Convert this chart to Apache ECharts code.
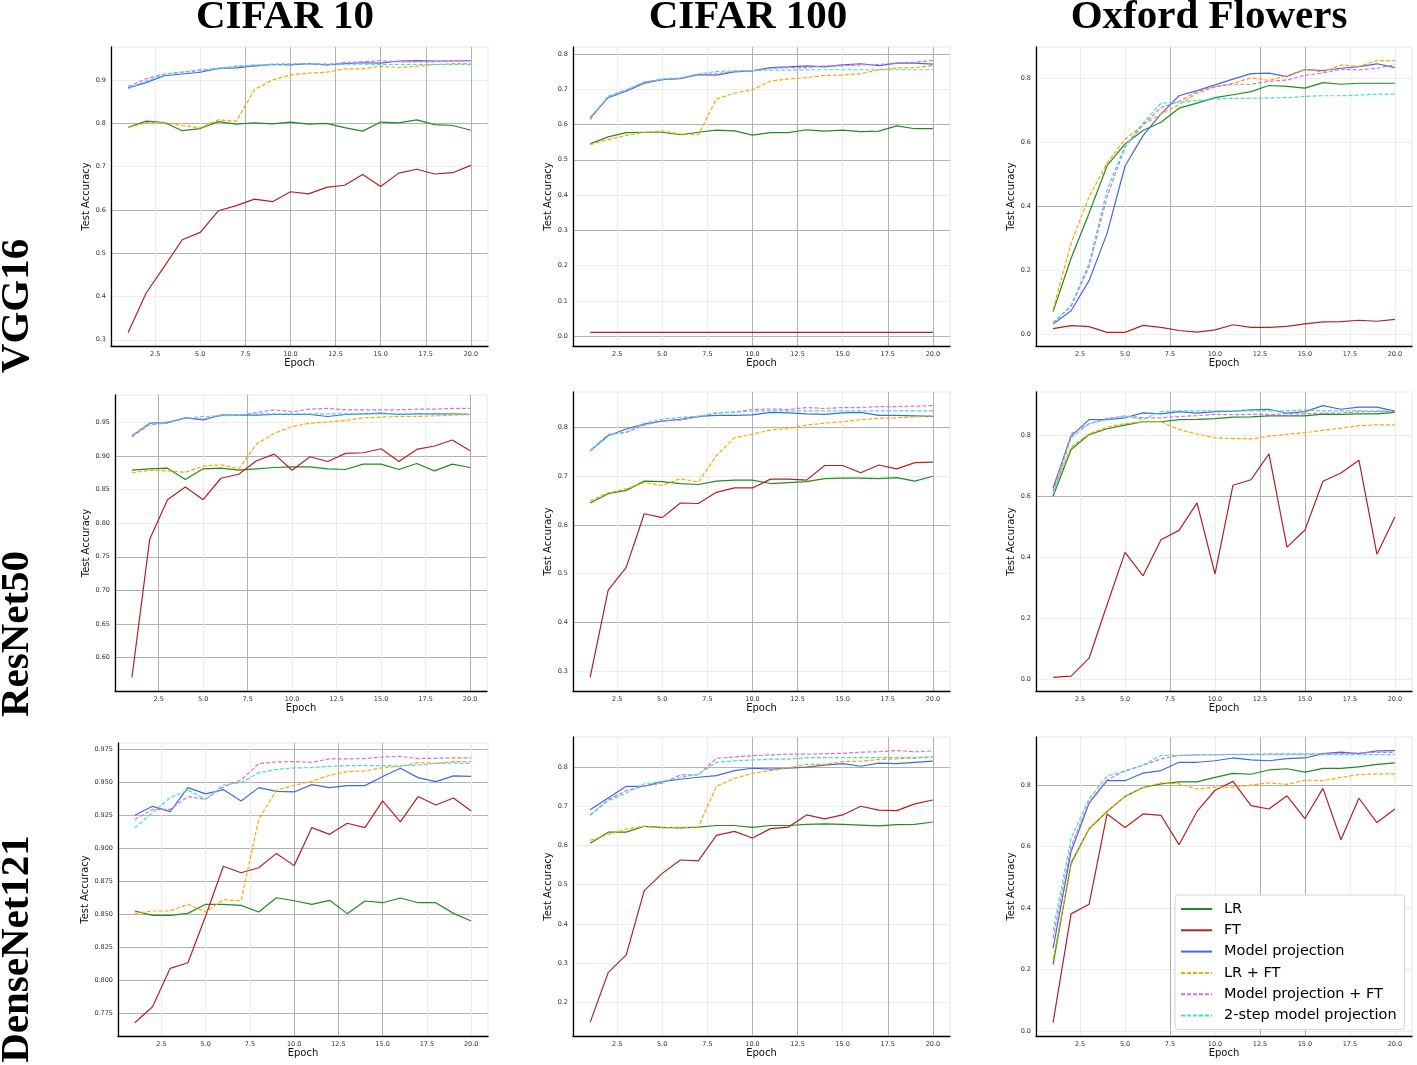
<!DOCTYPE html>
<html>
<head>
<meta charset="utf-8">
<script src="https://cdn.jsdelivr.net/npm/echarts@6/dist/echarts.min.js"></script>
<style>
  html, body { margin: 0; padding: 0; background: #fff; }
  #chart { width: 1417px; height: 1065px; }
</style>
</head>
<body>
<div id="chart"></div>
<script>
// epochs and legend
var epochs = [1, 2, 3, 4, 5, 6, 7, 8, 9, 10, 11, 12, 13, 14, 15, 16, 17, 18, 19, 20];
var seriesNames = ['LR', 'FT', 'Model projection', 'LR + FT', 'Model projection + FT', '2-step model projection'];
var xTicks = [2.5, 5, 7.5, 10, 12.5, 15, 17.5, 20];

// CIFAR 10 / VGG16
var c10VggLR   = [0.791,0.805,0.802,0.783,0.788,0.804,0.798,0.801,0.799,0.803,0.798,0.800,0.790,0.782,0.803,0.801,0.808,0.797,0.795,0.784];
var c10VggFT   = [0.317,0.408,0.469,0.531,0.548,0.598,0.610,0.625,0.619,0.642,0.637,0.652,0.657,0.682,0.654,0.685,0.694,0.683,0.686,0.703];
var c10VggMP   = [0.882,0.894,0.910,0.914,0.918,0.927,0.928,0.933,0.936,0.935,0.938,0.935,0.938,0.940,0.939,0.944,0.945,0.944,0.944,0.945];
var c10VggLRFT = [0.790,0.802,0.802,0.795,0.790,0.808,0.805,0.878,0.900,0.912,0.916,0.918,0.926,0.926,0.932,0.929,0.932,0.936,0.938,0.938];
var c10VggMPFT = [0.885,0.903,0.914,0.918,0.922,0.927,0.932,0.932,0.937,0.937,0.938,0.935,0.941,0.942,0.945,0.942,0.942,0.942,0.945,0.945];
var c10VggTwo  = [0.880,0.898,0.913,0.919,0.924,0.926,0.932,0.935,0.936,0.937,0.938,0.937,0.937,0.937,0.936,0.936,0.936,0.936,0.936,0.936];

// CIFAR 100 / VGG16
var c100VggLR   = [0.545,0.565,0.577,0.578,0.578,0.571,0.578,0.584,0.582,0.570,0.577,0.577,0.585,0.581,0.584,0.580,0.581,0.596,0.588,0.588];
var c100VggFT   = [0.011,0.011,0.011,0.011,0.011,0.011,0.011,0.011,0.011,0.011,0.011,0.011,0.011,0.011,0.011,0.011,0.011,0.011,0.011,0.011];
var c100VggMP   = [0.619,0.676,0.694,0.717,0.727,0.730,0.741,0.740,0.749,0.752,0.761,0.763,0.766,0.763,0.769,0.772,0.767,0.774,0.774,0.771];
var c100VggLRFT = [0.543,0.557,0.569,0.578,0.582,0.573,0.571,0.672,0.689,0.698,0.723,0.729,0.733,0.739,0.740,0.744,0.755,0.760,0.761,0.767];
var c100VggMPFT = [0.614,0.680,0.698,0.720,0.727,0.731,0.741,0.744,0.750,0.752,0.759,0.761,0.761,0.766,0.766,0.769,0.770,0.774,0.777,0.781];
var c100VggTwo  = [0.621,0.678,0.697,0.720,0.729,0.732,0.743,0.750,0.752,0.753,0.754,0.754,0.755,0.755,0.755,0.755,0.755,0.755,0.755,0.755];

// Oxford Flowers / VGG16
var flVggLR   = [0.070,0.237,0.378,0.527,0.595,0.637,0.663,0.707,0.723,0.740,0.749,0.759,0.778,0.775,0.770,0.787,0.782,0.785,0.785,0.785];
var flVggFT   = [0.017,0.026,0.023,0.005,0.005,0.027,0.021,0.011,0.006,0.013,0.029,0.021,0.021,0.024,0.032,0.038,0.039,0.043,0.040,0.046];
var flVggMP   = [0.031,0.073,0.167,0.315,0.526,0.621,0.689,0.746,0.762,0.780,0.798,0.815,0.817,0.806,0.828,0.825,0.832,0.837,0.846,0.834];
var flVggLRFT = [0.077,0.284,0.430,0.535,0.610,0.655,0.689,0.718,0.754,0.773,0.785,0.802,0.794,0.809,0.829,0.820,0.842,0.838,0.856,0.856];
var flVggMPFT = [0.036,0.086,0.211,0.430,0.585,0.655,0.709,0.728,0.759,0.775,0.782,0.782,0.791,0.795,0.810,0.817,0.829,0.827,0.832,0.843];
var flVggTwo  = [0.033,0.091,0.221,0.451,0.589,0.660,0.723,0.725,0.731,0.736,0.738,0.738,0.739,0.740,0.744,0.746,0.746,0.748,0.751,0.751];

// CIFAR 10 / ResNet50
var c10ResLR   = [0.879,0.881,0.882,0.865,0.881,0.882,0.879,0.881,0.883,0.884,0.884,0.881,0.880,0.888,0.888,0.880,0.889,0.878,0.888,0.883];
var c10ResFT   = [0.570,0.776,0.835,0.854,0.835,0.867,0.873,0.893,0.903,0.879,0.899,0.892,0.904,0.905,0.911,0.892,0.910,0.915,0.924,0.908];
var c10ResMP   = [0.930,0.949,0.950,0.957,0.954,0.961,0.961,0.961,0.962,0.962,0.962,0.959,0.962,0.963,0.964,0.962,0.963,0.963,0.963,0.962];
var c10ResLRFT = [0.875,0.879,0.878,0.876,0.885,0.887,0.881,0.918,0.934,0.944,0.949,0.951,0.953,0.957,0.958,0.959,0.959,0.960,0.961,0.962];
var c10ResMPFT = [0.929,0.947,0.949,0.957,0.955,0.961,0.961,0.965,0.969,0.966,0.970,0.971,0.969,0.969,0.969,0.969,0.970,0.970,0.971,0.971];
var c10ResTwo  = [0.931,0.948,0.951,0.956,0.959,0.960,0.961,0.963,0.963,0.963,0.963,0.963,0.963,0.963,0.963,0.963,0.963,0.963,0.963,0.963];

// CIFAR 100 / ResNet50
var c100ResLR   = [0.645,0.664,0.671,0.690,0.689,0.685,0.683,0.690,0.692,0.692,0.685,0.687,0.689,0.695,0.696,0.696,0.695,0.697,0.690,0.700];
var c100ResFT   = [0.287,0.466,0.513,0.623,0.615,0.645,0.644,0.667,0.676,0.676,0.694,0.694,0.692,0.722,0.722,0.707,0.723,0.715,0.728,0.729];
var c100ResMP   = [0.752,0.783,0.797,0.807,0.813,0.817,0.823,0.825,0.825,0.826,0.831,0.830,0.828,0.827,0.830,0.831,0.825,0.825,0.824,0.823];
var c100ResLRFT = [0.649,0.666,0.674,0.687,0.681,0.695,0.688,0.742,0.779,0.786,0.795,0.798,0.805,0.809,0.812,0.816,0.819,0.820,0.822,0.824];
var c100ResMPFT = [0.752,0.786,0.790,0.805,0.814,0.815,0.822,0.830,0.832,0.837,0.838,0.837,0.841,0.839,0.841,0.841,0.843,0.843,0.844,0.845];
var c100ResTwo  = [0.753,0.785,0.790,0.809,0.817,0.821,0.823,0.830,0.831,0.834,0.834,0.834,0.834,0.834,0.834,0.834,0.834,0.834,0.834,0.834];

// Oxford Flowers / ResNet50
var flResLR   = [0.599,0.752,0.801,0.820,0.832,0.843,0.843,0.850,0.851,0.853,0.858,0.859,0.862,0.862,0.862,0.868,0.867,0.869,0.869,0.874];
var flResFT   = [0.005,0.009,0.068,0.243,0.415,0.338,0.456,0.487,0.577,0.344,0.635,0.653,0.738,0.432,0.488,0.648,0.675,0.717,0.409,0.531];
var flResMP   = [0.626,0.796,0.850,0.850,0.856,0.872,0.869,0.876,0.871,0.876,0.878,0.882,0.884,0.871,0.876,0.896,0.884,0.891,0.891,0.878];
var flResLRFT = [0.615,0.760,0.803,0.825,0.837,0.843,0.843,0.818,0.803,0.790,0.788,0.787,0.795,0.802,0.807,0.815,0.822,0.830,0.833,0.833];
var flResMPFT = [0.615,0.803,0.836,0.854,0.862,0.856,0.856,0.860,0.863,0.867,0.866,0.867,0.867,0.869,0.869,0.871,0.872,0.876,0.876,0.876];
var flResTwo  = [0.604,0.790,0.837,0.851,0.861,0.851,0.876,0.879,0.879,0.879,0.879,0.879,0.879,0.879,0.882,0.879,0.879,0.879,0.879,0.879];

// CIFAR 10 / DenseNet121
var c10DenLR   = [0.8524,0.8491,0.8491,0.8506,0.8575,0.8575,0.8567,0.8516,0.8625,0.8602,0.8575,0.8605,0.8504,0.8600,0.8587,0.8623,0.8587,0.8587,0.8506,0.8448];
var c10DenFT   = [0.7675,0.7796,0.8088,0.8131,0.8486,0.8864,0.8815,0.8853,0.8962,0.8869,0.9158,0.9107,0.9191,0.9158,0.9361,0.9201,0.9394,0.9330,0.9383,0.9284];
var c10DenMP   = [0.9252,0.9320,0.9279,0.9462,0.9414,0.9447,0.9361,0.9462,0.9434,0.9429,0.9485,0.9462,0.9477,0.9477,0.9546,0.9609,0.9538,0.9508,0.9551,0.9548];
var c10DenLRFT = [0.8506,0.8524,0.8524,0.8575,0.8516,0.8610,0.8602,0.9221,0.9442,0.9480,0.9510,0.9556,0.9584,0.9589,0.9614,0.9624,0.9652,0.9647,0.9660,0.9660];
var c10DenMPFT = [0.9219,0.9297,0.9297,0.9394,0.9373,0.9467,0.9520,0.9645,0.9657,0.9660,0.9655,0.9680,0.9680,0.9683,0.9695,0.9700,0.9683,0.9685,0.9688,0.9688];
var c10DenTwo  = [0.9155,0.9272,0.9386,0.9442,0.9373,0.9482,0.9500,0.9576,0.9601,0.9612,0.9614,0.9624,0.9629,0.9629,0.9629,0.9627,0.9634,0.9645,0.9650,0.9645];

// CIFAR 100 / DenseNet121
var c100DenLR   = [0.606,0.634,0.634,0.649,0.646,0.645,0.647,0.651,0.651,0.646,0.651,0.651,0.654,0.655,0.654,0.652,0.650,0.653,0.654,0.660];
var c100DenFT   = [0.149,0.276,0.321,0.485,0.529,0.563,0.561,0.626,0.636,0.619,0.643,0.647,0.678,0.668,0.678,0.700,0.690,0.689,0.706,0.716];
var c100DenMP   = [0.691,0.721,0.751,0.751,0.763,0.769,0.774,0.778,0.791,0.797,0.795,0.797,0.800,0.805,0.809,0.802,0.810,0.809,0.812,0.815];
var c100DenLRFT = [0.613,0.628,0.642,0.649,0.645,0.646,0.647,0.751,0.771,0.784,0.791,0.798,0.807,0.807,0.814,0.815,0.819,0.821,0.823,0.825];
var c100DenMPFT = [0.677,0.717,0.740,0.751,0.759,0.780,0.780,0.822,0.826,0.829,0.831,0.833,0.833,0.834,0.835,0.838,0.839,0.842,0.839,0.841];
var c100DenTwo  = [0.678,0.714,0.734,0.757,0.763,0.774,0.782,0.812,0.816,0.818,0.820,0.820,0.824,0.824,0.824,0.824,0.824,0.824,0.824,0.826];

// Oxford Flowers / DenseNet121
var flDenLR   = [0.217,0.546,0.658,0.714,0.763,0.792,0.804,0.810,0.810,0.825,0.838,0.835,0.849,0.853,0.842,0.854,0.854,0.859,0.867,0.872];
var flDenFT   = [0.028,0.381,0.412,0.706,0.662,0.706,0.701,0.606,0.714,0.783,0.812,0.733,0.722,0.765,0.691,0.789,0.622,0.757,0.678,0.722];
var flDenMP   = [0.269,0.584,0.741,0.814,0.814,0.839,0.847,0.874,0.874,0.879,0.888,0.882,0.879,0.886,0.888,0.902,0.907,0.902,0.911,0.912];
var flDenLRFT = [0.233,0.541,0.658,0.714,0.763,0.792,0.807,0.804,0.787,0.793,0.793,0.800,0.807,0.802,0.816,0.814,0.825,0.834,0.836,0.836];
var flDenMPFT = [0.302,0.600,0.745,0.817,0.846,0.864,0.885,0.896,0.898,0.898,0.900,0.900,0.901,0.901,0.901,0.901,0.902,0.904,0.906,0.906];
var flDenTwo  = [0.327,0.627,0.755,0.829,0.846,0.865,0.896,0.896,0.898,0.899,0.899,0.899,0.899,0.899,0.900,0.899,0.899,0.899,0.899,0.899];

// y tick labels per panel
var ticksC10Vgg = [0.3, 0.4, 0.5, 0.6, 0.7, 0.8, 0.9];
var ticksC100Vgg = [0.0, 0.1, 0.2, 0.3, 0.4, 0.5, 0.6, 0.7, 0.8];
var ticksFlowers = [0.0, 0.2, 0.4, 0.6, 0.8];
var ticksC10Res = [0.60, 0.65, 0.70, 0.75, 0.80, 0.85, 0.90, 0.95];
var ticksC100Res = [0.3, 0.4, 0.5, 0.6, 0.7, 0.8];
var ticksC10Den = [0.775, 0.800, 0.825, 0.850, 0.875, 0.900, 0.925, 0.950, 0.975];
var ticksC100Den = [0.2, 0.3, 0.4, 0.5, 0.6, 0.7, 0.8];

var colors = ['#228B22', '#B22222', '#4169E1', '#FFA500', '#DA70D6', '#40E0D0'];
var dashed = [false, false, false, true, true, true];
var DARK = '#b2b2b2', LIGHT = '#ececec';

var panels = [
    { lines: [c10VggLR, c10VggFT, c10VggMP, c10VggLRFT, c10VggMPFT, c10VggTwo],
      box: [111, 47, 377, 299], yTicks: ticksC10Vgg, dec: 1, gap: 17,
      darkX: [7.5, 10, 12.5, 15, 17.5, 20], darkY: [0.5, 0.6, 0.8] },
    { lines: [c100VggLR, c100VggFT, c100VggMP, c100VggLRFT, c100VggMPFT, c100VggTwo],
      box: [573, 47, 377, 299], yTicks: ticksC100Vgg, dec: 1, gap: 18,
      darkX: [10, 12.5, 17.5, 20], darkY: [0.0, 0.3, 0.5, 0.6, 0.8] },
    { lines: [flVggLR, flVggFT, flVggMP, flVggLRFT, flVggMPFT, flVggTwo],
      box: [1036, 47, 376, 299], yTicks: ticksFlowers, dec: 1, gap: 18,
      darkX: [7.5, 12.5, 15], darkY: [0.4] },
    { lines: [c10ResLR, c10ResFT, c10ResMP, c10ResLRFT, c10ResMPFT, c10ResTwo],
      box: [115, 395, 372, 296], yTicks: ticksC10Res, dec: 2, gap: 23,
      darkX: [2.5, 7.5, 20], darkY: [0.6, 0.65, 0.7, 0.75, 0.9] },
    { lines: [c100ResLR, c100ResFT, c100ResMP, c100ResLRFT, c100ResMPFT, c100ResTwo],
      box: [573, 392, 377, 299], yTicks: ticksC100Res, dec: 1, gap: 18,
      darkX: [10, 12.5, 17.5, 20], darkY: [0.4, 0.6, 0.8] },
    { lines: [flResLR, flResFT, flResMP, flResLRFT, flResMPFT, flResTwo],
      box: [1036, 392, 376, 299], yTicks: ticksFlowers, dec: 1, gap: 18,
      darkX: [7.5, 12.5, 15], darkY: [0.6] },
    { lines: [c10DenLR, c10DenFT, c10DenMP, c10DenLRFT, c10DenMPFT, c10DenTwo],
      box: [118, 743, 370, 293], yTicks: ticksC10Den, dec: 3, gap: 25,
      darkX: [10, 12.5, 15], darkY: ticksC10Den },
    { lines: [c100DenLR, c100DenFT, c100DenMP, c100DenLRFT, c100DenMPFT, c100DenTwo],
      box: [573, 737, 377, 299], yTicks: ticksC100Den, dec: 1, gap: 18,
      darkX: [10, 12.5, 17.5, 20], darkY: [0.8] },
    { lines: [flDenLR, flDenFT, flDenMP, flDenLRFT, flDenMPFT, flDenTwo],
      box: [1036, 737, 376, 299], yTicks: ticksFlowers, dec: 1, gap: 18,
      darkX: [7.5, 12.5, 15], darkY: [0.8] }
];

function isIn(v, list) {
    return list.some(function (d) { return Math.abs(d - v) < 1e-6; });
}

var grids = [], xAxes = [], yAxes = [], series = [];
var tickFont = { fontSize: 6.5, color: '#333', fontFamily: 'DejaVu Sans' };
var nameFont = { fontSize: 10, color: '#111', fontFamily: 'DejaVu Sans' };

panels.forEach(function (p, i) {
    // matplotlib-like 5% margins around the data
    var all = [].concat.apply([], p.lines);
    var lo = Math.min.apply(null, all), hi = Math.max.apply(null, all);
    var pad = (hi - lo) * 0.05;

    grids.push({
        left: p.box[0], top: p.box[1], width: p.box[2], height: p.box[3],
        show: true, borderColor: '#e6e6e6', borderWidth: 1
    });

    xAxes.push({
        type: 'value', gridIndex: i, min: 0.05, max: 20.95,
        name: 'Epoch', nameLocation: 'middle', nameGap: 12, nameTextStyle: nameFont,
        axisLine: { show: true, onZero: false, lineStyle: { color: '#000', width: 1.3 } },
        axisTick: { show: false, customValues: xTicks },
        axisLabel: Object.assign({ customValues: xTicks, margin: 5,
            formatter: function (v) { return v.toFixed(1); } }, tickFont),
        splitLine: { show: true, lineStyle: { width: 1,
            color: xTicks.map(function (v) { return isIn(v, p.darkX) ? DARK : LIGHT; }) } }
    });

    yAxes.push({
        type: 'value', gridIndex: i, min: lo - pad, max: hi + pad,
        name: 'Test Accuracy', nameLocation: 'middle', nameGap: p.gap, nameTextStyle: nameFont,
        axisLine: { show: true, onZero: false, lineStyle: { color: '#000', width: 1.3 } },
        axisTick: { show: false, customValues: p.yTicks },
        axisLabel: Object.assign({ customValues: p.yTicks, margin: 5,
            formatter: function (v) { return v.toFixed(p.dec); } }, tickFont),
        splitLine: { show: true, lineStyle: { width: 1,
            color: p.yTicks.map(function (v) { return isIn(v, p.darkY) ? DARK : LIGHT; }) } }
    });

    p.lines.forEach(function (arr, k) {
        series.push({
            name: seriesNames[k], type: 'line', xAxisIndex: i, yAxisIndex: i,
            symbol: 'none', showSymbol: false, silent: true,
            data: epochs.map(function (e, j) { return [e, arr[j]]; }),
            itemStyle: { color: colors[k] },
            lineStyle: { color: colors[k], width: 1.2, type: dashed[k] ? [4, 2] : 'solid' }
        });
    });
});

var headFont = 'bold 41px "Liberation Serif", "Times New Roman", serif';
function headText(text, x, y, rot) {
    return {
        type: 'text', x: x, y: y, rotation: rot || 0, z: 100,
        style: { text: text, font: headFont, fill: '#000', textAlign: 'center', textVerticalAlign: 'middle' }
    };
}

var chart = echarts.init(document.getElementById('chart'), null, { renderer: 'canvas' });
chart.setOption({
    animation: false,
    backgroundColor: '#fff',
    grid: grids,
    xAxis: xAxes,
    yAxis: yAxes,
    series: series,
    legend: {
        data: seriesNames, orient: 'vertical', left: 1175, top: 895,
        padding: [6, 8, 6, 5], itemWidth: 31, itemHeight: 14, itemGap: 5.3,
        backgroundColor: '#fff', borderColor: '#d6d6d6', borderWidth: 1, borderRadius: 3,
        itemStyle: { opacity: 0 },
        textStyle: { fontSize: 14.5, color: '#000', fontFamily: 'DejaVu Sans', lineHeight: 16, padding: [0, 0, 0, 7] },
        selectedMode: false
    },
    graphic: [
        headText('CIFAR 10', 285, 17),
        headText('CIFAR 100', 748, 17),
        headText('Oxford Flowers', 1209, 17),
        headText('VGG16', 17, 306, Math.PI / 2),
        headText('ResNet50', 17, 634, Math.PI / 2),
        headText('DenseNet121', 17, 949, Math.PI / 2)
    ]
});
</script>
</body>
</html>
